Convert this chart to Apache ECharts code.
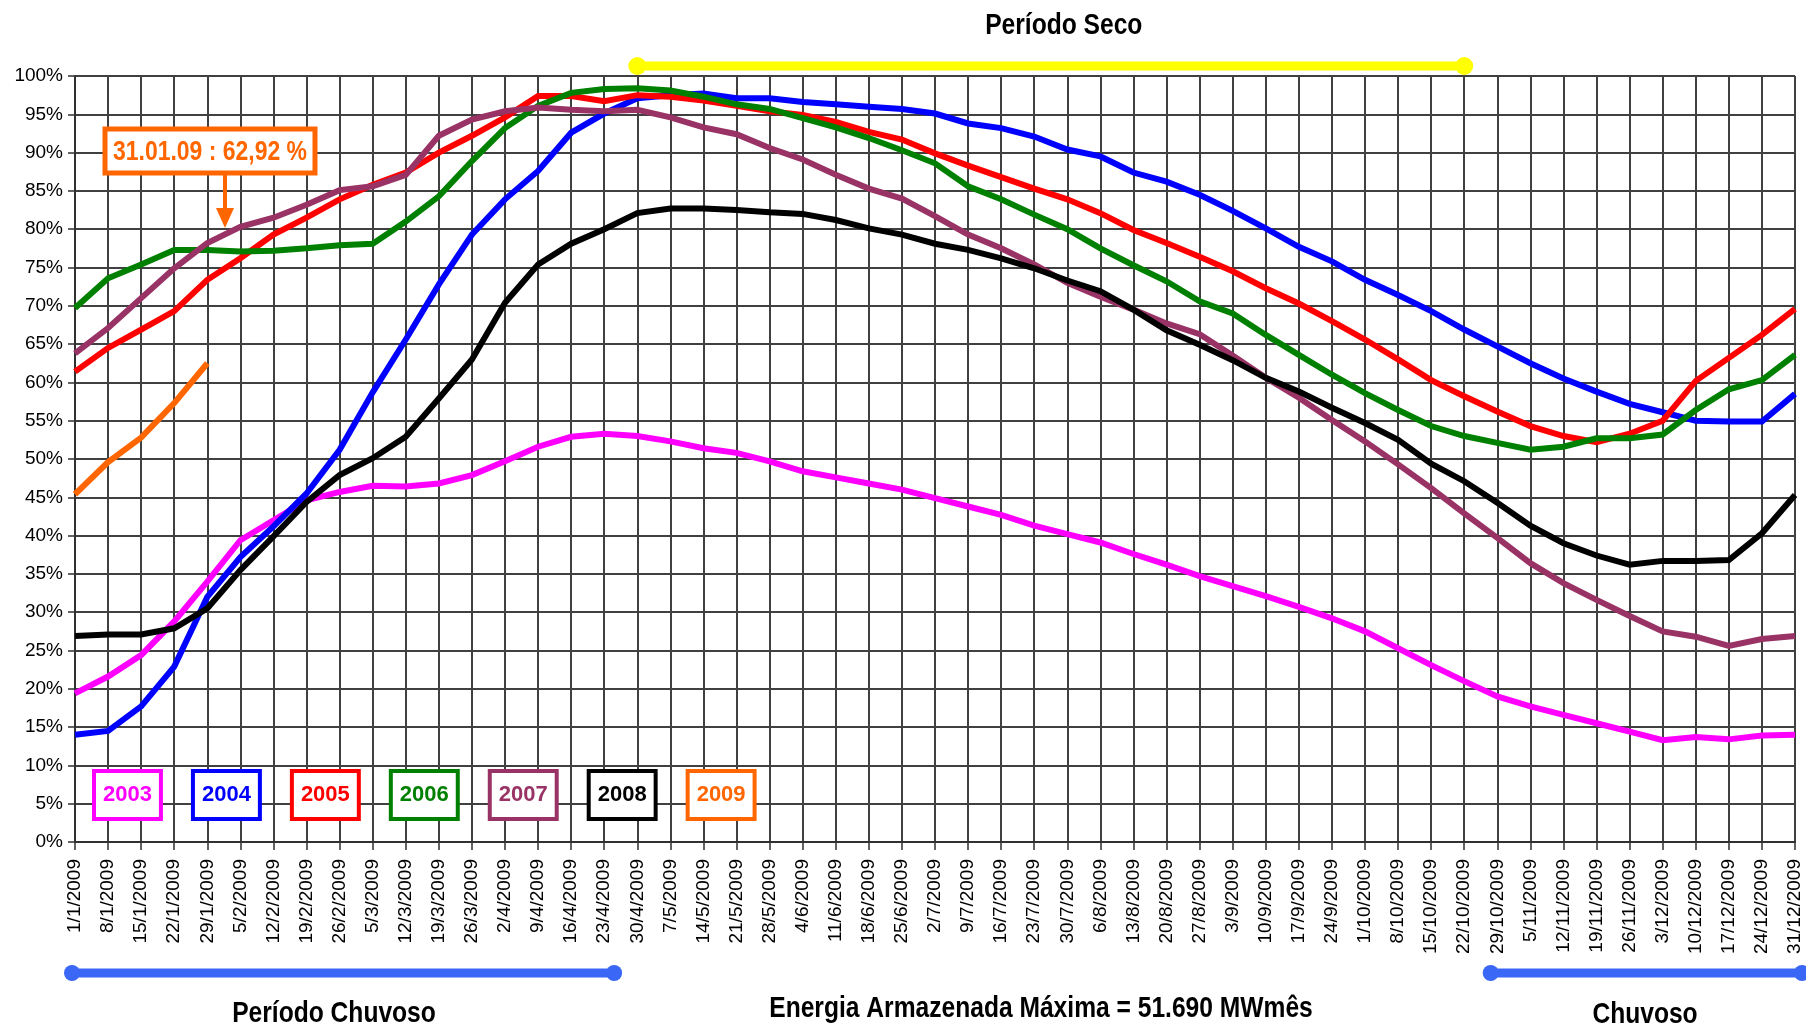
<!DOCTYPE html>
<html>
<head>
<meta charset="utf-8">
<script src="https://cdn.jsdelivr.net/npm/echarts@6/dist/echarts.min.js"></script>
<style>
html,body{margin:0;padding:0;background:#fff;}
#chart{width:1806px;height:1030px;}
</style>
</head>
<body>
<div id="chart"></div>
<script>
var dates = ['1/1/2009','8/1/2009','15/1/2009','22/1/2009','29/1/2009','5/2/2009','12/2/2009','19/2/2009','26/2/2009','5/3/2009','12/3/2009','19/3/2009','26/3/2009','2/4/2009','9/4/2009','16/4/2009','23/4/2009','30/4/2009','7/5/2009','14/5/2009','21/5/2009','28/5/2009','4/6/2009','11/6/2009','18/6/2009','25/6/2009','2/7/2009','9/7/2009','16/7/2009','23/7/2009','30/7/2009','6/8/2009','13/8/2009','20/8/2009','27/8/2009','3/9/2009','10/9/2009','17/9/2009','24/9/2009','1/10/2009','8/10/2009','15/10/2009','22/10/2009','29/10/2009','5/11/2009','12/11/2009','19/11/2009','26/11/2009','3/12/2009','10/12/2009','17/12/2009','24/12/2009','31/12/2009'];

var y2003 = [19.4,21.6,24.4,28.8,34.0,39.4,42.0,44.6,45.7,46.5,46.4,46.8,47.9,49.7,51.6,52.9,53.3,53.0,52.3,51.4,50.8,49.7,48.4,47.6,46.8,46.0,44.9,43.8,42.7,41.3,40.2,39.1,37.6,36.2,34.7,33.4,32.1,30.7,29.2,27.5,25.3,23.1,21.0,19.0,17.7,16.6,15.5,14.4,13.3,13.7,13.4,13.9,14.0];
var y2004 = [14.0,14.5,17.7,22.9,32.0,37.2,41.2,45.5,51.2,58.7,65.6,72.8,79.3,83.9,87.6,92.6,95.1,97.1,97.5,97.7,97.1,97.1,96.6,96.3,96.0,95.7,95.1,93.8,93.2,92.1,90.4,89.5,87.4,86.2,84.5,82.4,80.1,77.7,75.8,73.4,71.4,69.3,66.9,64.7,62.5,60.5,58.8,57.2,56.1,55.0,54.9,54.9,58.5];
var y2005 = [61.4,64.5,66.9,69.3,73.4,76.2,79.3,81.5,83.9,85.8,87.4,90.0,92.2,94.6,97.4,97.4,96.7,97.5,97.3,96.8,96.1,95.4,94.9,94.0,92.7,91.7,89.9,88.3,86.8,85.3,83.9,82.1,79.9,78.2,76.4,74.5,72.3,70.3,68.0,65.6,63.0,60.3,58.2,56.2,54.3,53.0,52.2,53.3,55.0,60.2,63.2,66.2,69.6];
var y2006 = [69.7,73.6,75.4,77.3,77.3,77.1,77.2,77.5,77.9,78.1,81.0,84.3,88.9,93.2,96.1,97.8,98.3,98.4,98.1,97.3,96.3,95.7,94.5,93.3,91.9,90.3,88.6,85.6,83.9,81.9,80.0,77.5,75.3,73.2,70.6,69.0,66.2,63.6,61.0,58.6,56.4,54.3,53.0,52.1,51.2,51.6,52.7,52.7,53.2,56.4,59.1,60.3,63.6];
var y2007 = [63.8,67.1,71.0,74.9,78.2,80.3,81.5,83.2,85.1,85.6,87.1,92.2,94.3,95.4,95.9,95.6,95.4,95.6,94.6,93.3,92.4,90.6,89.1,87.1,85.3,84.0,81.7,79.3,77.5,75.4,73.0,71.2,69.5,67.7,66.3,63.5,60.6,58.0,55.1,52.3,49.3,46.2,42.9,39.7,36.4,33.8,31.6,29.5,27.5,26.8,25.6,26.5,26.9];
var y2008 = [26.9,27.1,27.1,27.9,30.5,35.5,39.9,44.4,47.9,50.1,52.9,57.9,63.0,70.4,75.4,78.1,80.0,82.1,82.7,82.7,82.5,82.2,82.0,81.2,80.1,79.3,78.1,77.3,76.2,74.9,73.3,71.9,69.5,66.8,64.9,62.9,60.6,58.8,56.7,54.7,52.5,49.4,47.1,44.3,41.3,39.0,37.4,36.2,36.7,36.7,36.8,40.3,45.3];
var y2009 = [45.4,49.6,52.8,57.3,62.5];

var seriesNames = ['2003','2004','2005','2006','2007','2008','2009'];
var seriesColors = ['#FF00FF','#0000FF','#FF0000','#008000','#993366','#000000','#FF6600'];
var seriesData = [y2003,y2004,y2005,y2006,y2007,y2008,y2009];

var yTicks = [0,5,10,15,20,25,30,35,40,45,50,55,60,65,70,75,80,85,90,95,100];

var titleDry = 'Período Seco';
var titleWet = 'Período Chuvoso';
var titleWet2 = 'Chuvoso';
var footText = 'Energia Armazenada Máxima = 51.690 MWmês';
var calloutText = '31.01.09 : 62,92 %';
var dryStart = '30/4/2009', dryEnd = '22/10/2009';
var wetEnd = '23/4/2009', wet2Start = '29/10/2009';

var SANS = "'Liberation Sans',Arial,sans-serif";
var NARROW_X = 0.82;

var chart = echarts.init(document.getElementById('chart'), null, {renderer:'canvas'});

var series = seriesNames.map(function(n,i){
  return {
    name:n, type:'line', data:seriesData[i], symbol:'none', smooth:false,
    lineStyle:{width:6,color:seriesColors[i],cap:'butt',join:'miter'},
    itemStyle:{color:seriesColors[i]},
    z: 3+i, animation:false, clip:false
  };
});

chart.setOption({
  animation:false,
  backgroundColor:'#ffffff',
  grid:{left:75,right:11,top:76,bottom:188,containLabel:false},
  legend:{
    left:86, top:764, orient:'horizontal', icon:'none', itemWidth:0, itemHeight:0, itemGap:27,
    selectedMode:false,
    data: seriesNames.map(function(n,i){
      return {name:n, textStyle:{color:seriesColors[i], borderColor:seriesColors[i]}};
    }),
    textStyle:{fontFamily:SANS,fontSize:22,fontWeight:'bold',borderWidth:4,padding:[11,7,9,7],lineHeight:24,backgroundColor:'#fff'}
  },
  xAxis:{
    type:'category', data:dates, boundaryGap:false,
    axisLine:{lineStyle:{color:'#303030',width:2}},
    axisTick:{show:true,interval:0,length:8,lineStyle:{color:'#303030',width:1.5}},
    axisLabel:{interval:0,rotate:90,fontFamily:SANS,fontSize:19,color:'#000',margin:17},
    splitLine:{show:true,interval:0,lineStyle:{color:'#404040',width:2}}
  },
  yAxis:{
    type:'value', min:0, max:100, interval:5,
    axisLine:{show:true,lineStyle:{color:'#303030',width:2}},
    axisTick:{show:true,length:7,lineStyle:{color:'#303030',width:1.5}},
    axisLabel:{formatter:function(v){return yTicks.indexOf(v)>=0 ? v+'%' : '';},fontFamily:SANS,fontSize:19,color:'#000',margin:12},
    splitLine:{show:true,lineStyle:{color:'#404040',width:2}}
  },
  series:series
});

function px(cat){ return chart.convertToPixel({xAxisIndex:0}, cat); }
function py(v){ return chart.convertToPixel({yAxisIndex:0}, v); }

var step = px(dates[1]) - px(dates[0]);
var yTop = py(100), yBot = py(0);
var yellowY = yTop - 10;
var blueY = yBot + 131;
var x0 = px(dates[0]);
var xWetEnd = px(wetEnd) + 0.3*step;
var xWet2 = px(wet2Start) - 0.2*step;

var g = [];
function bar(xa, xb, y, color, w, r){
  g.push({type:'line', shape:{x1:xa,y1:y,x2:xb,y2:y}, style:{stroke:color,lineWidth:w}, z:20});
  g.push({type:'circle', shape:{cx:xa,cy:y,r:r}, style:{fill:color}, z:21});
  g.push({type:'circle', shape:{cx:xb,cy:y,r:r}, style:{fill:color}, z:21});
}
bar(px(dryStart), px(dryEnd), yellowY, '#FFFF00', 9, 9);
bar(x0 - 3, xWetEnd, blueY, '#3A67F5', 9, 8);
bar(xWet2, 1802, blueY, '#3A67F5', 9, 8);

function txt(x, y, s, size, color){
  g.push({type:'text', x:x, y:y, scaleX:NARROW_X, scaleY:1, z:30,
    style:{text:s, fill:color||'#000', font:'bold '+size+'px '+SANS, textAlign:'center', textVerticalAlign:'middle'}});
}
txt((px(dryStart)+px(dryEnd))/2 + 13, 26, titleDry, 30);
txt(334, 1014, titleWet, 30);
txt(1041, 1009, footText, 30);
txt(1645, 1015, titleWet2, 30);

// callout
g.push({type:'rect', shape:{x:105,y:129,width:210,height:44}, style:{fill:'#fff',stroke:'#FF6600',lineWidth:5}, z:30});
txt(210, 152, calloutText, 28, '#FF6600');
g.push({type:'line', shape:{x1:225,y1:175,x2:225,y2:212}, style:{stroke:'#FF6600',lineWidth:4}, z:30});
g.push({type:'polygon', shape:{points:[[216,208],[234,208],[225,228]]}, style:{fill:'#FF6600'}, z:30});

chart.setOption({graphic:g});
</script>
</body>
</html>
